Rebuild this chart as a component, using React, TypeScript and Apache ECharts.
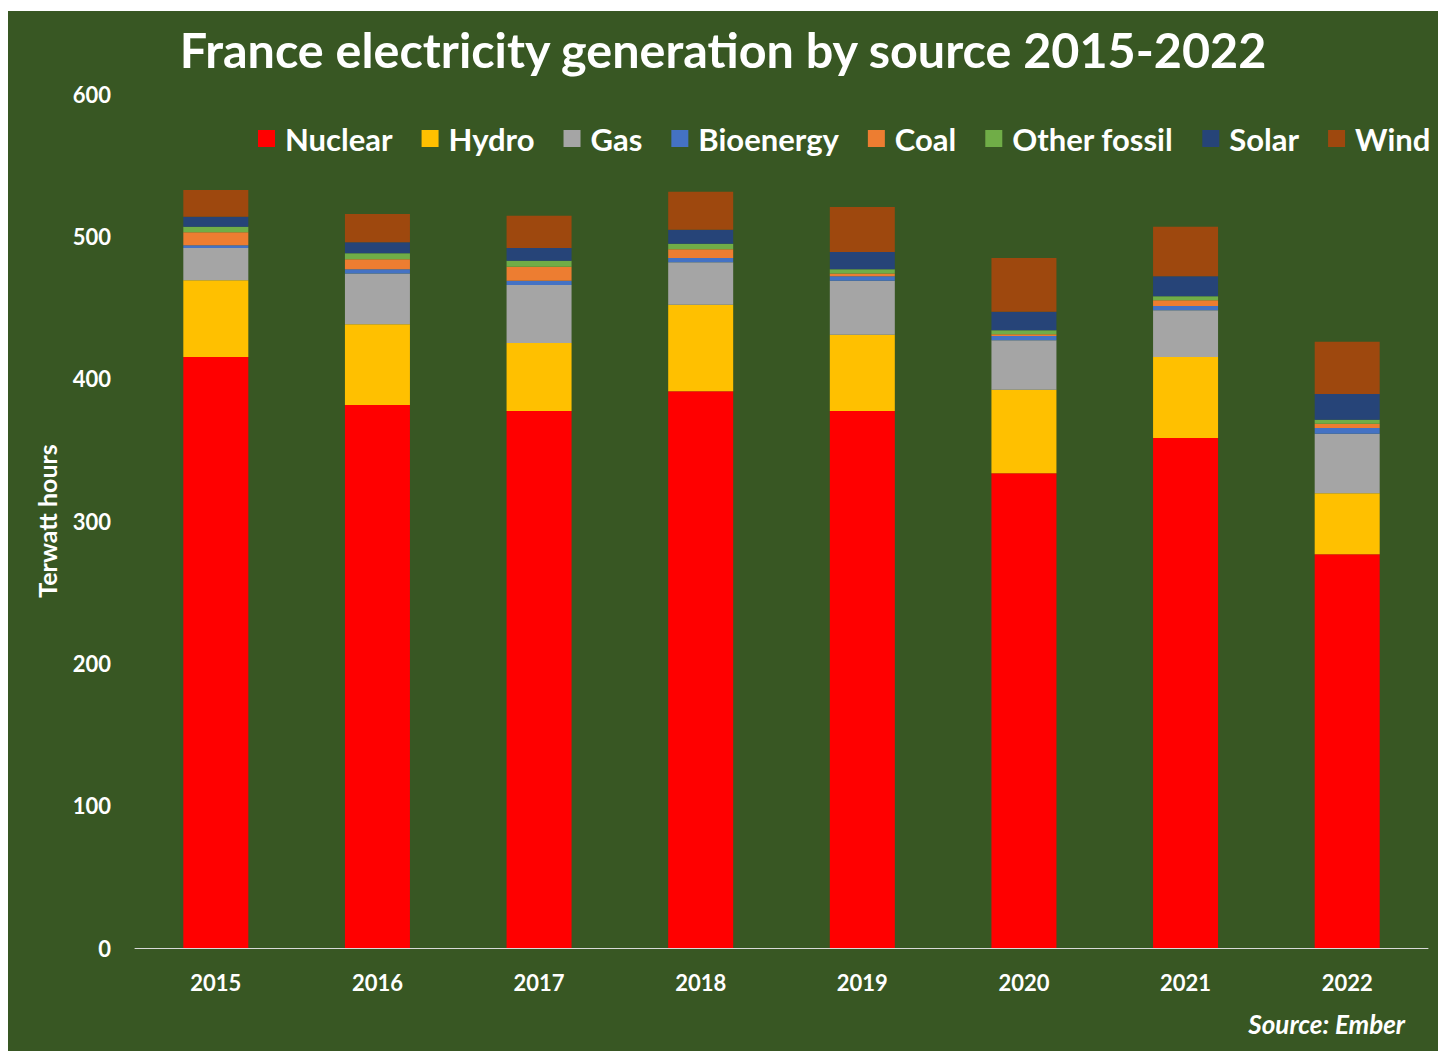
import React, { useEffect, useRef } from "react";
import * as echarts from "echarts";

const years = ["2015", "2016", "2017", "2018", "2019", "2020", "2021", "2022"];
const nuclear = [415.2, 381.5, 377.3, 391.1, 377.3, 333.5, 358.3, 276.6];
const hydro = [53.9, 56.7, 47.8, 60.9, 53.6, 58.8, 56.9, 42.9];
const gas = [22.7, 35.6, 40.7, 29.8, 37.9, 34.7, 32.8, 41.8];
const bioenergy = [1.9, 3.0, 3.0, 3.0, 3.1, 3.0, 3.1, 4.0];
const coal = [9.1, 7.1, 9.9, 6.1, 1.9, 1.2, 4.0, 3.1];
const otherFossil = [4.0, 4.2, 4.2, 3.9, 3.0, 2.8, 2.8, 2.8];
const solar = [7.0, 7.7, 8.9, 9.9, 12.2, 13.1, 14.0, 18.0];
const wind = [18.8, 19.9, 22.7, 26.7, 31.6, 37.7, 34.9, 36.8];

const seriesDefs = [
  { name: "Nuclear", data: nuclear, color: "#FF0000" },
  { name: "Hydro", data: hydro, color: "#FFC000" },
  { name: "Gas", data: gas, color: "#A5A5A5" },
  { name: "Bioenergy", data: bioenergy, color: "#4472C4" },
  { name: "Coal", data: coal, color: "#ED7D31" },
  { name: "Other fossil", data: otherFossil, color: "#70AD47" },
  { name: "Solar", data: solar, color: "#264478" },
  { name: "Wind", data: wind, color: "#9E480E" },
];

const FONT = "Lato, 'Open Sans', sans-serif";

export default function App() {
  const ref = useRef<HTMLDivElement>(null);
  useEffect(() => {
    if (!ref.current) return;
    const chart = echarts.init(ref.current, null, { renderer: "svg" });
    chart.setOption({
      animation: false,
      backgroundColor: "#385723",
      textStyle: { fontFamily: FONT },
      title: {
        text: "France electricity generation by source 2015-2022",
        left: "center",
        top: 8,
        textStyle: { color: "#ffffff", fontSize: 48.5, fontWeight: "bold", fontFamily: FONT },
      },
      legend: {
        left: 245,
        top: 107,
        itemWidth: 17,
        itemHeight: 17,
        itemGap: 29,
        icon: "rect",
        textStyle: { color: "#ffffff", fontSize: 31, fontWeight: "bold", fontFamily: FONT, padding: [0, 0, 0, 5] },
        data: seriesDefs.map((s) => s.name),
      },
      grid: { left: 127, right: 10, top: 83, bottom: 103, containLabel: false },
      xAxis: {
        type: "category",
        data: years,
        axisLine: { show: true, lineStyle: { color: "#d9d9d9", width: 1 } },
        axisTick: { show: false },
        axisLabel: { color: "#ffffff", fontSize: 22, fontWeight: "bold", margin: 23, fontFamily: FONT },
      },
      yAxis: {
        type: "value",
        min: 0,
        max: 600,
        interval: 100,
        name: "Terwatt hours",
        nameLocation: "middle",
        nameGap: 76,
        nameTextStyle: { color: "#ffffff", fontSize: 25, fontWeight: "bold", fontFamily: FONT },
        splitLine: { show: false },
        axisLine: { show: false },
        axisTick: { show: false },
        axisLabel: { color: "#ffffff", fontSize: 22, fontWeight: "bold", margin: 24, fontFamily: FONT },
      },
      graphic: [
        {
          type: "text",
          right: 33,
          top: 1000,
          style: {
            text: "Source: Ember",
            fill: "#ffffff",
            fontSize: 26,
            fontWeight: "bold",
            fontStyle: "italic",
            fontFamily: FONT,
          },
        },
      ],
      series: seriesDefs.map((s) => ({
        name: s.name,
        type: "bar",
        stack: "total",
        barWidth: 65,
        data: s.data,
        itemStyle: { color: s.color },
      })),
    });
    return () => chart.dispose();
  }, []);
  return (
    <div
      ref={ref}
      style={{ position: "absolute", left: 8, top: 11, width: 1430, height: 1040 }}
    />
  );
}
